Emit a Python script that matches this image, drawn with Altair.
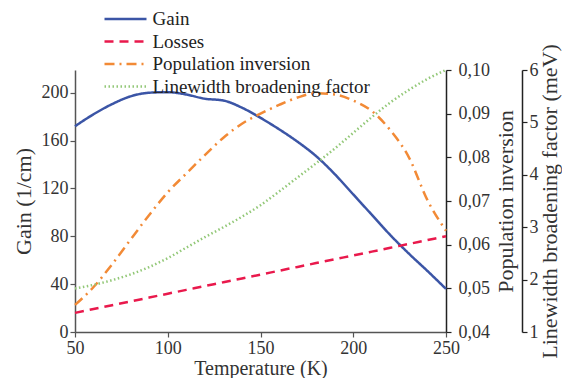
import altair as alt
import pandas as pd

temperature = [50, 60, 70, 80, 90, 100, 110, 120, 130, 140, 150,
               160, 170, 180, 190, 200, 210, 220, 230, 240, 250]
gain = [172, 182, 190.5, 197, 200, 200.5, 198.5, 195, 193.5, 187.5, 179,
        169.5, 159, 147, 132, 115, 98, 81, 65.5, 51, 36]
losses = [16.0, 19.2, 22.4, 25.6, 28.8, 32.0, 35.2, 38.4, 41.6, 44.8, 48.0,
          51.2, 54.4, 57.6, 60.8, 64.0, 67.2, 70.4, 73.6, 76.8, 80.0]
population_inversion = [0.0462, 0.0503, 0.0555, 0.0612, 0.0668, 0.0720, 0.0763,
                        0.0805, 0.0845, 0.0877, 0.0900, 0.0920, 0.0937, 0.0947,
                        0.0944, 0.0930, 0.0906, 0.0862, 0.0800, 0.0702, 0.0632]
linewidth_factor = [1.83, 1.90, 1.99, 2.10, 2.24, 2.41, 2.61, 2.81, 3.00, 3.20, 3.42,
                    3.68, 3.95, 4.22, 4.50, 4.80, 5.10, 5.38, 5.62, 5.83, 6.00]

series_names = ["Gain", "Losses", "Population inversion", "Linewidth broadening factor"]
series_colors = ["#3b55a6", "#e9194c", "#f28a36", "#93c878"]
series_dashes = [[1, 0], [9, 6], [10, 5, 2, 5], [1.5, 2.5]]
series_widths = [2.5, 2.5, 2.5, 1.2]

x_ticks = [50, 100, 150, 200, 250]
gain_ticks = [0, 40, 80, 120, 160, 200]
pop_ticks = [0.04, 0.05, 0.06, 0.07, 0.08, 0.09, 0.10]
lw_ticks = [1, 2, 3, 4, 5, 6]

FONT = "Liberation Serif, Times New Roman, serif"


def frame(name, values):
    return pd.DataFrame({"temperature": temperature, "value": values, "series": name})


color = alt.Color("series:N", scale=alt.Scale(domain=series_names, range=series_colors),
                  title=None,
                  legend=alt.Legend(orient="none", legendX=38.5, legendY=-63))
dash = alt.StrokeDash("series:N", scale=alt.Scale(domain=series_names, range=series_dashes),
                      title=None)
width = alt.StrokeWidth("series:N", scale=alt.Scale(domain=series_names, range=series_widths),
                        title=None)

x_enc = alt.X("temperature:Q", scale=alt.Scale(domain=[50, 250], nice=False),
              axis=alt.Axis(values=x_ticks, title="Temperature (K)", titlePadding=1,
                            titleFontSize=20, domainColor="#555555", tickColor="#555555"))

gain_layer = alt.Chart(frame("Gain", gain)).mark_line(interpolate="monotone").encode(
    x=x_enc,
    y=alt.Y("value:Q", scale=alt.Scale(domain=[0, 219], nice=False),
            axis=alt.Axis(orient="left", values=gain_ticks, title="Gain (1/cm)",
                          titlePadding=6, domainColor="#555555", tickColor="#555555")),
    color=color, strokeDash=dash, strokeWidth=width,
)

loss_layer = alt.Chart(frame("Losses", losses)).mark_line(interpolate="monotone").encode(
    x=alt.X("temperature:Q"),
    y=alt.Y("value:Q", scale=alt.Scale(domain=[0, 219], nice=False), axis=None),
    color=color, strokeDash=dash, strokeWidth=width,
)

pop_layer = alt.Chart(frame("Population inversion", population_inversion)).mark_line(
    interpolate="monotone").encode(
    x=alt.X("temperature:Q"),
    y=alt.Y("value:Q", scale=alt.Scale(domain=[0.04, 0.10], nice=False),
            axis=alt.Axis(orient="right", values=pop_ticks, title="Population inversion",
                          labelExpr="replace(format(datum.value, '.2f'), '.', ',')",
                          labelPadding=7,
                          titleAngle=270, titleBaseline="top", titlePadding=6)),
    color=color, strokeDash=dash, strokeWidth=width,
)

lw_layer = alt.Chart(frame("Linewidth broadening factor", linewidth_factor)).mark_line(
    interpolate="monotone").encode(
    x=alt.X("temperature:Q"),
    y=alt.Y("value:Q", scale=alt.Scale(domain=[1, 6], nice=False),
            axis=alt.Axis(orient="right", values=lw_ticks, offset=76,
                          title="Linewidth broadening  factor (meV)",
                          titleAngle=270, titleBaseline="top", titlePadding=1)),
    color=color, strokeDash=dash, strokeWidth=width,
)

chart = alt.layer(gain_layer, loss_layer, pop_layer, lw_layer).resolve_scale(
    y="independent"
).properties(
    width=371, height=262,
    autosize=alt.AutoSizeParams(type="none"),
    padding={"left": 67, "top": 62, "right": 116, "bottom": 46},
    background="white",
).configure_view(stroke=None).configure_axis(
    grid=False, labelFlush=False,
    domainColor="#222222", tickColor="#222222", domainWidth=1.5, tickWidth=1.2,
    tickSize=5, labelPadding=2,
    labelFont=FONT, labelFontSize=18, labelColor="#333333",
    titleFont=FONT, titleFontSize=22, titleFontWeight="normal", titleColor="#333333",
).configure_legend(
    labelFont=FONT, labelFontSize=19, labelColor="#222222", labelLimit=400,
    symbolType="M-2,0L2,0", symbolSize=441, labelOffset=15,
    rowPadding=0.5, padding=0,
)

chart.save("out.html", embed_options={"renderer": "svg", "actions": False})
